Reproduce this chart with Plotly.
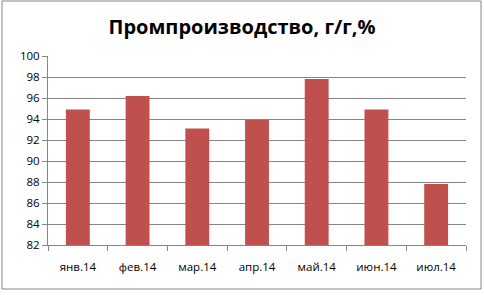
import plotly.graph_objects as go

categories = ["янв.14", "фев.14", "мар.14", "апр.14", "май.14", "июн.14", "июл.14"]
values = [94.9, 96.2, 93.1, 93.9, 97.8, 94.9, 87.8]
y_ticks = [82, 84, 86, 88, 90, 92, 94, 96, 98, 100]

W, H = 484, 295
L, R, T, B = 48, 18, 56, 50
pw, ph = W - L - R, H - T - B

def px_x(x):
    return (x - L) / pw

def px_y(y):
    return (H - B - y) / ph

fig = go.Figure(go.Bar(x=categories, y=values, marker_color="#C0504D",
                       marker_line_width=0, width=0.4))

fig.update_layout(
    width=W, height=H,
    margin=dict(l=L, r=R, t=T, b=B),
    paper_bgcolor="white", plot_bgcolor="white",
    showlegend=False,
    title=dict(text="<b>Промпроизводство, г/г,%</b>", x=0.5, xanchor="center",
               y=1 - 27 / H, yanchor="middle", yref="container",
               font=dict(family="Open Sans", size=20, color="black")),
    font=dict(family="Open Sans", size=11, color="black"),
    bargap=0.6,
    xaxis=dict(type="category", showline=True, linecolor="#868686", linewidth=1,
               ticks="outside", ticklen=5, tickcolor="#868686", tickson="boundaries",
               showgrid=False, tickfont=dict(size=11.5), ticklabelstandoff=11),
    yaxis=dict(range=[82, 100], tickvals=y_ticks, showline=True, linecolor="#868686",
               linewidth=1, ticks="outside", ticklen=5, tickcolor="#868686",
               gridcolor="#868686", gridwidth=1, zeroline=False, tickfont=dict(size=11.5)),
    shapes=[dict(type="rect", xref="paper", yref="paper",
                 x0=px_x(2), x1=px_x(481), y0=px_y(289), y1=px_y(1),
                 line=dict(color="#868686", width=1), fillcolor="rgba(0,0,0,0)", layer="below")],
)

fig.write_html("out.html")
